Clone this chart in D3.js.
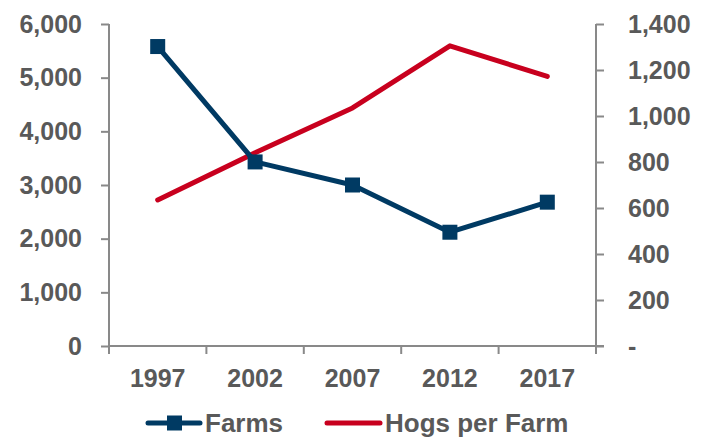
<!DOCTYPE html>
<html>
<head>
<meta charset="utf-8">
<script src="https://cdn.jsdelivr.net/npm/d3@7"></script>
<style>
  body { margin: 0; background: #fff; }
  text { font-family: "Liberation Sans", Arial, sans-serif; font-weight: bold; fill: #595959; }
</style>
</head>
<body>
<div id="chart"></div>
<script>
// data
var years = ["1997", "2002", "2007", "2012", "2017"];
var farms = [5580, 3430, 3000, 2120, 2680];
var hogsPerFarm = [635, 840, 1035, 1305, 1172];
var leftTicks = [0, 1000, 2000, 3000, 4000, 5000, 6000];
var rightTicks = [0, 200, 400, 600, 800, 1000, 1200, 1400];

var W = 707, H = 437;
var plotLeft = 109, plotRight = 596, plotTop = 24, plotBottom = 346;
var axisColor = "#898989", navy = "#003A63", red = "#C8001E";

var svg = d3.select("#chart").append("svg")
  .attr("width", W).attr("height", H);

var x = d3.scaleBand().domain(years).range([plotLeft, plotRight]);
var yL = d3.scaleLinear().domain([0, 6000]).range([plotBottom, plotTop]);
var yR = d3.scaleLinear().domain([0, 1400]).range([plotBottom, plotTop]);

var fmt = d3.format(",");

// left axis
var gL = svg.append("g").attr("transform", "translate(" + plotLeft + ",0)")
  .call(d3.axisLeft(yL).tickValues(leftTicks).tickFormat(fmt).tickSize(8).tickPadding(19));
// right axis
var gR = svg.append("g").attr("transform", "translate(" + plotRight + ",0)")
  .call(d3.axisRight(yR).tickValues(rightTicks)
    .tickFormat(function (d) { return d === 0 ? "-" : fmt(d); })
    .tickSize(8).tickPadding(24));
// bottom axis, ticks on category boundaries
var bounds = years.map(function (d) { return x(d); }).concat([plotRight]);
var gB = svg.append("g").attr("transform", "translate(0," + plotBottom + ")");
gB.append("line").attr("x1", plotLeft).attr("x2", plotRight + 8)
  .attr("stroke", axisColor).attr("stroke-width", 2);
gB.selectAll("line.t").data(bounds).enter().append("line").attr("class", "t")
  .attr("x1", function (d) { return d; }).attr("x2", function (d) { return d; })
  .attr("y1", 0).attr("y2", 8)
  .attr("stroke", axisColor).attr("stroke-width", 2);
gB.selectAll("text").data(years).enter().append("text")
  .attr("x", function (d) { return x(d) + x.bandwidth() / 2; })
  .attr("y", 41)
  .attr("text-anchor", "middle")
  .style("font-size", "25px")
  .text(function (d) { return d; });

[gL, gR].forEach(function (g) {
  g.select(".domain").attr("stroke", axisColor).attr("stroke-width", 2);
  g.selectAll(".tick line").attr("stroke", axisColor).attr("stroke-width", 2);
  g.selectAll(".tick text").style("font-size", "25px").attr("fill", "#595959")
    .style("font-family", "Liberation Sans, Arial, sans-serif").style("font-weight", "bold");
});
gL.select(".domain").attr("d", "M0," + plotTop + "V" + (plotBottom + 8));
gR.select(".domain").attr("d", "M0," + plotTop + "V" + (plotBottom + 8));

var cx = function (d, i) { return x(years[i]) + x.bandwidth() / 2; };

// hogs per farm line
svg.append("path")
  .attr("fill", "none").attr("stroke", red).attr("stroke-width", 5)
  .attr("stroke-linecap", "round").attr("stroke-linejoin", "round")
  .attr("d", d3.line().x(cx).y(function (d) { return yR(d); })(hogsPerFarm));

// farms line
svg.append("path")
  .attr("fill", "none").attr("stroke", navy).attr("stroke-width", 5)
  .attr("stroke-linejoin", "round")
  .attr("d", d3.line().x(cx).y(function (d) { return yL(d); })(farms));
svg.selectAll("rect.m").data(farms).enter().append("rect").attr("class", "m")
  .attr("x", function (d, i) { return cx(d, i) - 7.5; })
  .attr("y", function (d) { return yL(d) - 7.5; })
  .attr("width", 15).attr("height", 15)
  .attr("fill", navy);

// legend
var leg = svg.append("g");
var ly = 423;
leg.append("line").attr("x1", 148).attr("x2", 200).attr("y1", ly).attr("y2", ly)
  .attr("stroke", navy).attr("stroke-width", 5).attr("stroke-linecap", "round");
leg.append("rect").attr("x", 167).attr("y", ly - 7.5).attr("width", 15).attr("height", 15).attr("fill", navy);
leg.append("text").attr("x", 205).attr("y", ly + 9).style("font-size", "26px").text("Farms");
leg.append("line").attr("x1", 327).attr("x2", 380).attr("y1", ly).attr("y2", ly)
  .attr("stroke", red).attr("stroke-width", 5).attr("stroke-linecap", "round");
leg.append("text").attr("x", 385).attr("y", ly + 9).style("font-size", "26px").text("Hogs per Farm");
</script>
</body>
</html>
